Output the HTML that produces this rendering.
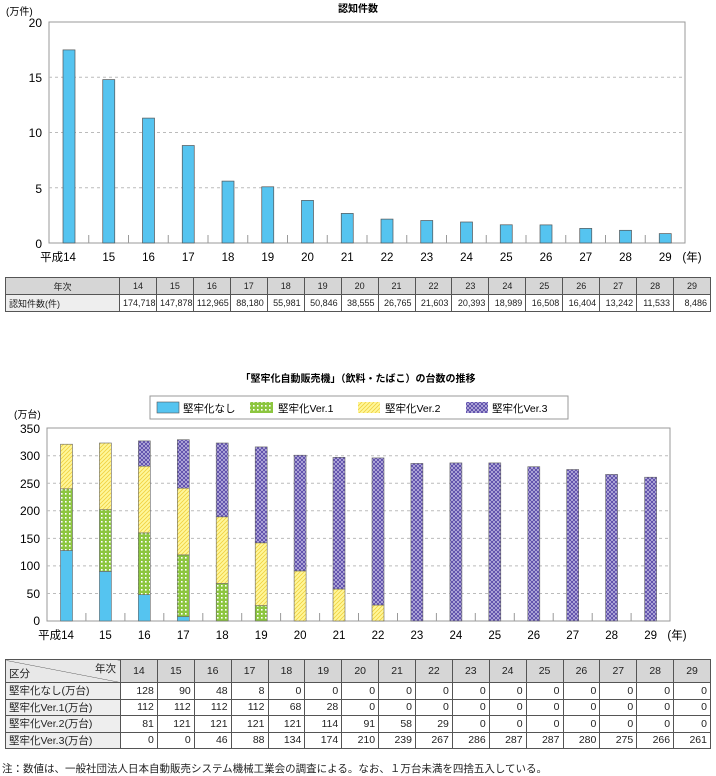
<!DOCTYPE html>
<html><head><meta charset="utf-8"><style>
body{margin:0;width:716px;height:775px;background:#fff;position:relative;font-family:"Liberation Sans","Noto Sans CJK JP",sans-serif;color:#222;overflow:hidden}
svg{position:absolute;left:0;top:0}
table{position:absolute;border-collapse:collapse;table-layout:fixed}
td{border:1px solid #555;padding:0 3px;text-align:right;white-space:nowrap;overflow:hidden}
tr.h td{background:#d6d6d6;text-align:center}
td.l{text-align:left;background:#eee}
#t1{left:5px;top:277px;width:706px;font-size:9px}
#t1 td{height:16px}
#t2{left:5px;top:659px;width:706px;font-size:10.5px}
#t2 td{height:15.5px}
#t2 tr.h td{height:22px}
.note{position:absolute;left:2px;top:761px;font-size:10.5px}
</style></head><body>
<svg width="716" height="775" font-family="Liberation Sans, Noto Sans CJK JP, sans-serif">
<defs>
<pattern id="p1" width="4" height="4" patternUnits="userSpaceOnUse"><rect width="4" height="4" fill="#8cc63f"/><rect x="1" y="1" width="1.6" height="1.6" fill="#fff"/></pattern>
<pattern id="p2" width="4" height="4" patternUnits="userSpaceOnUse"><rect width="4" height="4" fill="#fff79a"/><path d="M-1,1 l2,-2 M0,4 l4,-4 M3,5 l2,-2" stroke="#f0d040" stroke-width="0.8"/></pattern>
<pattern id="p3" width="4" height="4" patternUnits="userSpaceOnUse"><rect width="4" height="4" fill="#5a4aa8"/><path d="M0,0 L4,4 M4,0 L0,4" stroke="#d8d4f0" stroke-width="0.6"/></pattern>
</defs>
<text x="358" y="12" font-size="10" font-weight="bold" text-anchor="middle">認知件数</text>
<text x="6" y="15" font-size="10">(万件)</text>
<rect x="49" y="22" width="636" height="221" fill="none" stroke="#999"/>
<g stroke="#bbb" stroke-dasharray="3,3"><line x1="49" x2="685" y1="77.25" y2="77.25"/><line x1="49" x2="685" y1="132.5" y2="132.5"/><line x1="49" x2="685" y1="187.75" y2="187.75"/></g>
<g font-size="12" text-anchor="end"><text x="42" y="27">20</text><text x="42" y="82">15</text><text x="42" y="137">10</text><text x="42" y="193">5</text><text x="42" y="248">0</text></g>
<g fill="#55c4f0" stroke="#555" stroke-width="0.7">
<rect x="63" y="49.9" width="12" height="193.1"/><rect x="102.75" y="79.6" width="12" height="163.4"/><rect x="142.5" y="118.1" width="12" height="124.9"/><rect x="182.25" y="145.5" width="12" height="97.5"/><rect x="222" y="181.1" width="12" height="61.9"/><rect x="261.75" y="186.8" width="12" height="56.2"/><rect x="301.5" y="200.4" width="12" height="42.6"/><rect x="341.25" y="213.4" width="12" height="29.6"/><rect x="381" y="219.1" width="12" height="23.9"/><rect x="420.75" y="220.5" width="12" height="22.5"/><rect x="460.5" y="222" width="12" height="21"/><rect x="500.25" y="224.8" width="12" height="18.2"/><rect x="540" y="224.9" width="12" height="18.1"/><rect x="579.75" y="228.4" width="12" height="14.6"/><rect x="619.5" y="230.3" width="12" height="12.7"/><rect x="659.25" y="233.6" width="12" height="9.4"/>
</g>
<g stroke="#999"><line x1="88.75" x2="88.75" y1="235" y2="243"/><line x1="128.5" x2="128.5" y1="235" y2="243"/><line x1="168.25" x2="168.25" y1="235" y2="243"/><line x1="208" x2="208" y1="235" y2="243"/><line x1="247.75" x2="247.75" y1="235" y2="243"/><line x1="287.5" x2="287.5" y1="235" y2="243"/><line x1="327.25" x2="327.25" y1="235" y2="243"/><line x1="367" x2="367" y1="235" y2="243"/><line x1="406.75" x2="406.75" y1="235" y2="243"/><line x1="446.5" x2="446.5" y1="235" y2="243"/><line x1="486.25" x2="486.25" y1="235" y2="243"/><line x1="526" x2="526" y1="235" y2="243"/><line x1="565.75" x2="565.75" y1="235" y2="243"/><line x1="605.5" x2="605.5" y1="235" y2="243"/><line x1="645.25" x2="645.25" y1="235" y2="243"/></g>
<g font-size="11.5" text-anchor="middle"><text x="58" y="261">平成14</text><text x="108.75" y="261">15</text><text x="148.5" y="261">16</text><text x="188.25" y="261">17</text><text x="228" y="261">18</text><text x="267.75" y="261">19</text><text x="307.5" y="261">20</text><text x="347.25" y="261">21</text><text x="387" y="261">22</text><text x="426.75" y="261">23</text><text x="466.5" y="261">24</text><text x="506.25" y="261">25</text><text x="546" y="261">26</text><text x="585.75" y="261">27</text><text x="625.5" y="261">28</text><text x="665.25" y="261">29</text><text x="692" y="261">(年)</text></g>

<text x="358" y="382" font-size="10" font-weight="bold" text-anchor="middle">「堅牢化自動販売機」（飲料・たばこ）の台数の推移</text>
<rect x="150" y="396" width="418" height="23" fill="#fff" stroke="#999"/>
<rect x="157" y="402" width="22" height="11" fill="#55c4f0" stroke="#555" stroke-width="0.6"/><text x="183" y="412" font-size="10.5">堅牢化なし</text>
<rect x="250" y="402" width="23" height="11" fill="url(#p1)"/><text x="278" y="412" font-size="10.5">堅牢化Ver.1</text>
<rect x="358" y="402" width="22" height="11" fill="url(#p2)"/><text x="385" y="412" font-size="10.5">堅牢化Ver.2</text>
<rect x="466" y="402" width="22" height="11" fill="url(#p3)"/><text x="492" y="412" font-size="10.5">堅牢化Ver.3</text>
<text x="14" y="418" font-size="10">(万台)</text>
<rect x="47" y="428" width="623" height="193" fill="none" stroke="#999"/>
<g stroke="#bbb" stroke-dasharray="3,3"><line x1="47" x2="670" y1="593.5" y2="593.5"/><line x1="47" x2="670" y1="565.9" y2="565.9"/><line x1="47" x2="670" y1="538.4" y2="538.4"/><line x1="47" x2="670" y1="510.8" y2="510.8"/><line x1="47" x2="670" y1="483.3" y2="483.3"/><line x1="47" x2="670" y1="455.7" y2="455.7"/></g>
<g font-size="12" text-anchor="end"><text x="40" y="433">350</text><text x="40" y="460">300</text><text x="40" y="488">250</text><text x="40" y="515">200</text><text x="40" y="543">150</text><text x="40" y="570">100</text><text x="40" y="598">50</text><text x="40" y="625">0</text></g>
<g stroke="#666" stroke-width="0.6">
<rect x="60.5" y="550.5" width="12" height="70.5" fill="#55c4f0"/><rect x="60.5" y="488.8" width="12" height="61.7" fill="url(#p1)"/><rect x="60.5" y="444.2" width="12" height="44.6" fill="url(#p2)"/>
<rect x="99.4" y="571.4" width="12" height="49.6" fill="#55c4f0"/><rect x="99.4" y="509.7" width="12" height="61.7" fill="url(#p1)"/><rect x="99.4" y="443" width="12" height="66.7" fill="url(#p2)"/>
<rect x="138.3" y="594.6" width="12" height="26.4" fill="#55c4f0"/><rect x="138.3" y="532.9" width="12" height="61.7" fill="url(#p1)"/><rect x="138.3" y="466.2" width="12" height="66.7" fill="url(#p2)"/><rect x="138.3" y="440.9" width="12" height="25.3" fill="url(#p3)"/>
<rect x="177.3" y="616.6" width="12" height="4.4" fill="#55c4f0"/><rect x="177.3" y="554.9" width="12" height="61.7" fill="url(#p1)"/><rect x="177.3" y="488.2" width="12" height="66.7" fill="url(#p2)"/><rect x="177.3" y="439.7" width="12" height="48.5" fill="url(#p3)"/>
<rect x="216.2" y="583.5" width="12" height="37.5" fill="url(#p1)"/><rect x="216.2" y="516.8" width="12" height="66.7" fill="url(#p2)"/><rect x="216.2" y="443" width="12" height="73.8" fill="url(#p3)"/>
<rect x="255.2" y="605.6" width="12" height="15.4" fill="url(#p1)"/><rect x="255.2" y="542.8" width="12" height="62.8" fill="url(#p2)"/><rect x="255.2" y="446.9" width="12" height="95.9" fill="url(#p3)"/>
<rect x="294.1" y="570.9" width="12" height="50.1" fill="url(#p2)"/><rect x="294.1" y="455.2" width="12" height="115.7" fill="url(#p3)"/>
<rect x="333" y="589" width="12" height="32" fill="url(#p2)"/><rect x="333" y="457.3" width="12" height="131.7" fill="url(#p3)"/>
<rect x="372" y="605" width="12" height="16" fill="url(#p2)"/><rect x="372" y="457.9" width="12" height="147.1" fill="url(#p3)"/>
<rect x="410.9" y="463.4" width="12" height="157.6" fill="url(#p3)"/>
<rect x="449.9" y="462.9" width="12" height="158.1" fill="url(#p3)"/>
<rect x="488.8" y="462.9" width="12" height="158.1" fill="url(#p3)"/>
<rect x="527.8" y="466.7" width="12" height="154.3" fill="url(#p3)"/>
<rect x="566.7" y="469.5" width="12" height="151.5" fill="url(#p3)"/>
<rect x="605.6" y="474.4" width="12" height="146.6" fill="url(#p3)"/>
<rect x="644.6" y="477.2" width="12" height="143.8" fill="url(#p3)"/>
</g>
<g stroke="#999"><line x1="85.9" x2="85.9" y1="613" y2="621"/><line x1="124.9" x2="124.9" y1="613" y2="621"/><line x1="163.8" x2="163.8" y1="613" y2="621"/><line x1="202.8" x2="202.8" y1="613" y2="621"/><line x1="241.7" x2="241.7" y1="613" y2="621"/><line x1="280.6" x2="280.6" y1="613" y2="621"/><line x1="319.6" x2="319.6" y1="613" y2="621"/><line x1="358.5" x2="358.5" y1="613" y2="621"/><line x1="397.5" x2="397.5" y1="613" y2="621"/><line x1="436.4" x2="436.4" y1="613" y2="621"/><line x1="475.3" x2="475.3" y1="613" y2="621"/><line x1="514.3" x2="514.3" y1="613" y2="621"/><line x1="553.2" x2="553.2" y1="613" y2="621"/><line x1="592.2" x2="592.2" y1="613" y2="621"/><line x1="631.1" x2="631.1" y1="613" y2="621"/></g>
<g font-size="11.5" text-anchor="middle"><text x="56" y="639">平成14</text><text x="105.4" y="639">15</text><text x="144.3" y="639">16</text><text x="183.3" y="639">17</text><text x="222.2" y="639">18</text><text x="261.2" y="639">19</text><text x="300.1" y="639">20</text><text x="339" y="639">21</text><text x="378" y="639">22</text><text x="416.9" y="639">23</text><text x="455.9" y="639">24</text><text x="494.8" y="639">25</text><text x="533.8" y="639">26</text><text x="572.7" y="639">27</text><text x="611.6" y="639">28</text><text x="650.6" y="639">29</text><text x="677" y="639">(年)</text></g>
</svg>

<table id="t1"><colgroup><col style="width:114px"><col span="16"></colgroup>
<tr class="h"><td>年次</td><td>14</td><td>15</td><td>16</td><td>17</td><td>18</td><td>19</td><td>20</td><td>21</td><td>22</td><td>23</td><td>24</td><td>25</td><td>26</td><td>27</td><td>28</td><td>29</td></tr>
<tr><td class="l">認知件数(件)</td><td>174,718</td><td>147,878</td><td>112,965</td><td>88,180</td><td>55,981</td><td>50,846</td><td>38,555</td><td>26,765</td><td>21,603</td><td>20,393</td><td>18,989</td><td>16,508</td><td>16,404</td><td>13,242</td><td>11,533</td><td>8,486</td></tr>
</table>

<table id="t2"><colgroup><col style="width:115px"><col span="16"></colgroup>
<tr class="h"><td style="position:relative;padding:0;background:#e8e8e8 linear-gradient(to top right,transparent 49%,#555 50%,transparent 51%)"><span style="position:absolute;right:4px;top:1px">年次</span><span style="position:absolute;left:3px;bottom:1px">区分</span></td><td>14</td><td>15</td><td>16</td><td>17</td><td>18</td><td>19</td><td>20</td><td>21</td><td>22</td><td>23</td><td>24</td><td>25</td><td>26</td><td>27</td><td>28</td><td>29</td></tr>
<tr><td class="l">堅牢化なし(万台)</td><td>128</td><td>90</td><td>48</td><td>8</td><td>0</td><td>0</td><td>0</td><td>0</td><td>0</td><td>0</td><td>0</td><td>0</td><td>0</td><td>0</td><td>0</td><td>0</td></tr>
<tr><td class="l">堅牢化Ver.1(万台)</td><td>112</td><td>112</td><td>112</td><td>112</td><td>68</td><td>28</td><td>0</td><td>0</td><td>0</td><td>0</td><td>0</td><td>0</td><td>0</td><td>0</td><td>0</td><td>0</td></tr>
<tr><td class="l">堅牢化Ver.2(万台)</td><td>81</td><td>121</td><td>121</td><td>121</td><td>121</td><td>114</td><td>91</td><td>58</td><td>29</td><td>0</td><td>0</td><td>0</td><td>0</td><td>0</td><td>0</td><td>0</td></tr>
<tr><td class="l">堅牢化Ver.3(万台)</td><td>0</td><td>0</td><td>46</td><td>88</td><td>134</td><td>174</td><td>210</td><td>239</td><td>267</td><td>286</td><td>287</td><td>287</td><td>280</td><td>275</td><td>266</td><td>261</td></tr>
</table>
<div class="note">注：数値は、一般社団法人日本自動販売システム機械工業会の調査による。なお、１万台未満を四捨五入している。</div>
</body></html>
